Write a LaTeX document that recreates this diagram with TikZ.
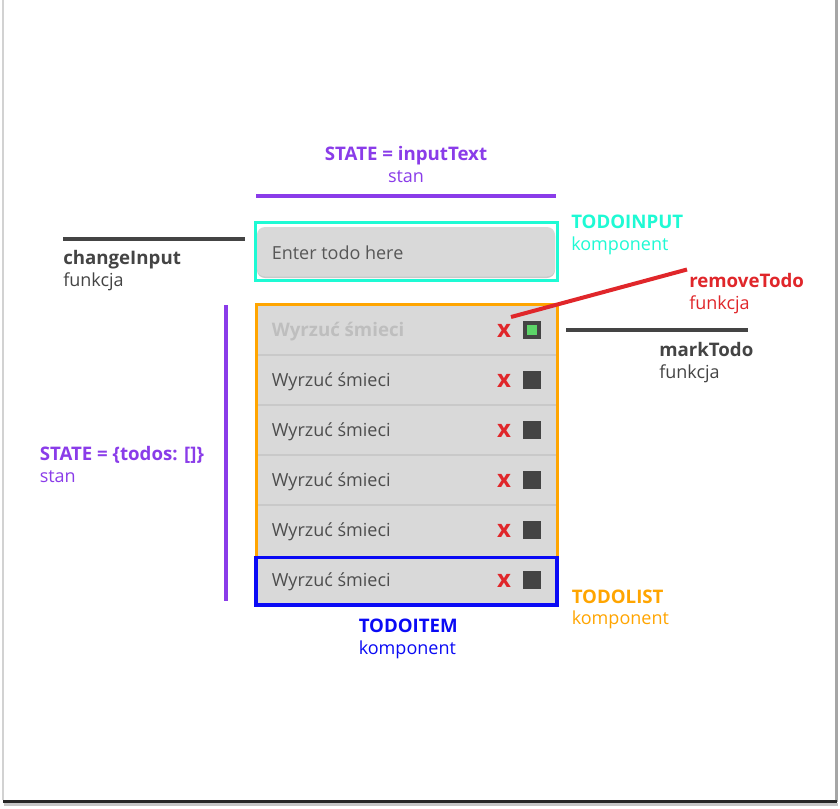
\documentclass[tikz,border=0pt]{standalone}
\usepackage{fontspec}
\setmainfont{Open Sans}
\definecolor{cpurple}{HTML}{8A3CE9}
\definecolor{ccyan}{HTML}{1EFAD4}
\definecolor{corange}{HTML}{FFA500}
\definecolor{cblue}{HTML}{0A0AF5}
\definecolor{cred}{HTML}{E0262A}
\definecolor{cdark}{HTML}{444444}
\definecolor{cfill}{HTML}{D9D9D9}
\definecolor{csep}{HTML}{C9C9C9}
\definecolor{ctext}{HTML}{4D4D4D}
\definecolor{cfaded}{HTML}{BEBEBE}
\definecolor{cgreen}{HTML}{5CD468}
\begin{document}
\begin{tikzpicture}[x=0.75pt,y=-0.75pt,
  lbl/.style={font=\fontsize{14}{16}\selectfont\bfseries, anchor=base west, inner sep=0pt},
  sub/.style={font=\fontsize{13.5}{16}\selectfont, anchor=base west, inner sep=0pt},
  bar/.style={line width=3pt},
  itemtext/.style={font=\fontsize{13.5}{16}\selectfont, text=ctext, anchor=base west, inner sep=0pt},
  delx/.style={font=\fontsize{18}{20}\selectfont\bfseries, text=cred, inner sep=0pt},
  chk/.style={fill=cdark}
]
\useasboundingbox (0,0) rectangle (840,808);
% page and shadow
\fill[white] (0,0) rectangle (840,808);
\fill[gray!35] (2,0) rectangle (4,800);
\fill[gray!70] (835,0) rectangle (838,802);
\fill[gray!45] (4,803) rectangle (838,806);
\fill[black!85] (3,799.5) rectangle (837,803);

% STATE = inputText
\node[lbl, anchor=base, text=cpurple] (stA) at (406,160) {STATE = inputText};
\node[sub, anchor=base, text=cpurple] (stAs) at (406,182) {stan};
\draw[bar, cpurple] (256,196) -- (556,196);

% TODOINPUT
\fill[csep, rounded corners=6pt] (257,228.5) rectangle (555,278);
\fill[cfill, rounded corners=6pt] (257,227) rectangle (555,276.5);
\draw[ccyan, line width=2.25pt] (255.5,222.5) rectangle (557.5,280);
\node[itemtext, text=cdark!90] (inp) at (271.5,259) {Enter todo here};
\node[lbl, text=ccyan] (tiT) at (571,228) {TODOINPUT};
\node[sub, text=ccyan] (tiS) at (571,250) {komponent};

% changeInput
\draw[bar, cdark] (63,239) -- (245,239);
\node[lbl, text=cdark] (ciT) at (63,264.3) {changeInput};
\node[sub, text=cdark] (ciS) at (63,286) {funkcja};

% list
\fill[cfill] (256,304) rectangle (557,605);
\foreach \s in {355,405,455,505}
  \draw[csep, line width=1.5pt] (257,\s) -- (556,\s);
\node[lbl, text=cfaded] (it0) at (271.5,336) {Wyrzuć śmieci};
\foreach \i in {1,...,5}
  \node[itemtext] (it\i) at (271.5,336+50*\i) {Wyrzuć śmieci};
\foreach \i in {0,...,5}{
  \node[delx] (x\i) at (504,330.5+50*\i) {x};
  \fill[cdark] (523,321+50*\i) rectangle (541,339+50*\i);
}
\fill[cgreen] (527,325) rectangle (537,335);
\draw[corange, line width=2.25pt] (256,304) rectangle (557,605);
\draw[cblue, line width=2.6pt] (256,557.5) rectangle (557,605);

% markTodo
\draw[bar, cdark] (566,330) -- (748,330);
\node[lbl, text=cdark] (mtT) at (659,356.7) {markTodo};
\node[sub, text=cdark] (mtS) at (659,378.3) {funkcja};

% removeTodo
\draw[bar, cred] (511,317) -- (687,269.5);
\node[lbl, text=cred] (rtT) at (689,287.3) {removeTodo};
\node[sub, text=cred] (rtS) at (689,309.3) {funkcja};

% left state
\draw[bar, cpurple] (226,305) -- (226,601);
\node[lbl, text=cpurple] (stB) at (39.5,460) {STATE = \{todos: []\}};
\node[sub, text=cpurple] (stBs) at (39.5,482) {stan};

% TODOITEM / TODOLIST
\node[lbl, text=cblue] (tmT) at (358.5,632.7) {TODOITEM};
\node[sub, text=cblue] (tmS) at (358.5,654) {komponent};
\node[lbl, text=corange] (tlT) at (571.5,603.3) {TODOLIST};
\node[sub, text=corange] (tlS) at (571.5,624.5) {komponent};
\end{tikzpicture}
\end{document}
